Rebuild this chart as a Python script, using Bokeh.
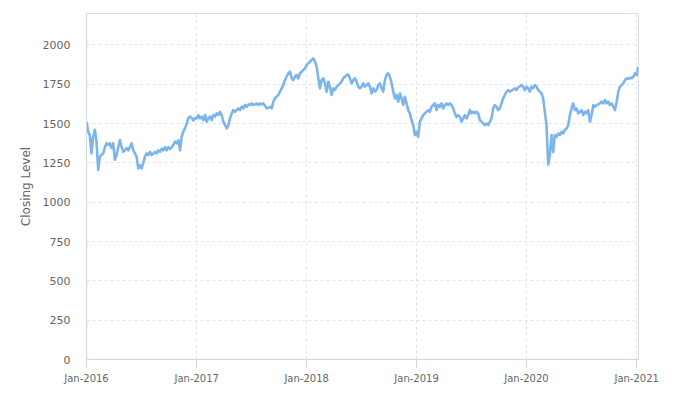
import pandas as pd
from datetime import datetime
from bokeh.plotting import figure
from bokeh.models import Range1d, FixedTicker, DatetimeTickFormatter, ColumnDataSource
from bokeh.embed import file_html
from bokeh.resources import INLINE

# Values, one list per calendar year
v2016 = [1510, 1450, 1425, 1310, 1415, 1460, 1385, 1205, 1290, 1300, 1310, 1350, 1375, 1365,
         1375, 1345, 1375, 1270, 1300, 1350, 1395, 1350, 1320, 1330, 1345, 1330, 1350, 1375,
         1330, 1310, 1290, 1215, 1235, 1215, 1250, 1290, 1310, 1300, 1320, 1300, 1310, 1320,
         1310, 1330, 1320, 1340, 1330, 1350, 1330, 1350, 1340, 1350, 1365, 1385, 1375, 1395,
         1330, 1415, 1450, 1470, 1500, 1535, 1545, 1535, 1520, 1535]
v2017 = [1533, 1554, 1533, 1545, 1522, 1554, 1512, 1533, 1545, 1522, 1554, 1545, 1565, 1554,
         1575, 1554, 1512, 1490, 1469, 1490, 1533, 1565, 1586, 1575, 1586, 1597, 1586, 1607,
         1597, 1618, 1607, 1622, 1618, 1628, 1618, 1622, 1628, 1618, 1628, 1622, 1628, 1614,
         1597, 1601, 1607, 1597, 1639, 1660, 1671, 1682, 1703, 1724, 1745, 1777, 1798, 1820,
         1830, 1788, 1777, 1798, 1809, 1788, 1820, 1830, 1840, 1851]
v2018 = [1873, 1883, 1894, 1905, 1915, 1894, 1862, 1788, 1724, 1777, 1788, 1756, 1703, 1766,
         1735, 1682, 1724, 1714, 1735, 1745, 1756, 1766, 1788, 1798, 1809, 1812, 1788, 1756,
         1777, 1788, 1766, 1735, 1724, 1735, 1756, 1735, 1745, 1756, 1735, 1692, 1724, 1703,
         1714, 1745, 1756, 1724, 1703, 1777, 1809, 1820, 1798, 1756, 1703, 1660, 1682, 1639,
         1692, 1660, 1618, 1671, 1628, 1586, 1565, 1522, 1490, 1427]
v2019 = [1448, 1416, 1512, 1533, 1554, 1565, 1575, 1586, 1575, 1607, 1618, 1628, 1586, 1618,
         1607, 1628, 1597, 1618, 1628, 1618, 1628, 1618, 1597, 1565, 1543, 1554, 1543, 1512,
         1533, 1554, 1533, 1554, 1586, 1565, 1575, 1565, 1575, 1565, 1522, 1512, 1501, 1490,
         1501, 1490, 1512, 1533, 1597, 1618, 1607, 1586, 1597, 1628, 1660, 1682, 1703, 1713,
         1703, 1709, 1717, 1724, 1713, 1730, 1735, 1745, 1735, 1713]
v2020 = [1735, 1724, 1703, 1735, 1724, 1745, 1735, 1713, 1703, 1692, 1660, 1575, 1490, 1240,
         1299, 1427, 1320, 1427, 1416, 1437, 1427, 1448, 1437, 1459, 1469, 1490, 1554, 1597,
         1628, 1586, 1597, 1565, 1575, 1586, 1554, 1575, 1565, 1586, 1512, 1554, 1618, 1607,
         1618, 1622, 1628, 1639, 1628, 1650, 1628, 1639, 1618, 1628, 1607, 1586, 1639, 1703,
         1735, 1745, 1756, 1777, 1788, 1784, 1792, 1788, 1798, 1820]
v2021 = [1809, 1860]
d2021 = ["2021-01-01", "2021-01-06"]

years = [2016, 2017, 2018, 2019, 2020]
yearly = [v2016, v2017, v2018, v2019, v2020]
y_ticks = [0, 250, 500, 750, 1000, 1250, 1500, 1750, 2000]
x_tick_years = [2016, 2017, 2018, 2019, 2020, 2021]


def year_dates(y, n):
    return list(pd.date_range(f"{y}-01-01", f"{y + 1}-01-01", periods=n + 1)[:-1])


dates, values = [], []
for y, vals in zip(years, yearly):
    dates += year_dates(y, len(vals))
    values += vals
dates += list(pd.to_datetime(d2021))
values += v2021

src = ColumnDataSource(dict(date=dates, close=values))

p = figure(width=682, height=396, x_axis_type="datetime", output_backend="svg",
           toolbar_location=None,
           x_range=Range1d(datetime(2016, 1, 1), datetime(2021, 1, 7)),
           y_range=Range1d(0, 2200),
           min_border_left=86, min_border_right=44, min_border_top=13, min_border_bottom=37)

p.line("date", "close", source=src, line_color="#7cb5ec", line_width=2.6,
       line_join="round")

grey = "#666666"
axis_col = "#ccd6eb"
font = "DejaVu Sans"

p.outline_line_color = "#d8dee9"
p.background_fill_color = "white"
p.border_fill_color = "white"

# grids
for g in (p.xgrid, p.ygrid):
    g.grid_line_color = "#e3e3e3"
    g.grid_line_dash = "3 3"
    g.grid_line_width = 1

# y axis
ya = p.yaxis[0]
ya.ticker = FixedTicker(ticks=y_ticks)
ya.axis_label = "Closing Level"
ya.axis_label_text_font = font
ya.axis_label_text_font_size = "12px"
ya.axis_label_text_font_style = "normal"
ya.axis_label_text_color = grey
ya.axis_label_standoff = 7
ya.major_label_text_font = font
ya.major_label_text_font_size = "11px"
ya.major_label_text_color = grey
ya.major_tick_line_color = None
ya.minor_tick_line_color = None
ya.major_tick_out = 0
ya.major_tick_in = 0
ya.major_label_standoff = 16
ya.axis_line_color = axis_col

# x axis
xa = p.xaxis[0]
xa.ticker = FixedTicker(ticks=[datetime(y, 1, 1).timestamp() * 1000 for y in x_tick_years])
fmt = "%b-%Y"
xa.formatter = DatetimeTickFormatter(years=fmt, months=fmt, days=fmt, hours=fmt,
                                     hourmin=fmt, minutes=fmt, minsec=fmt, seconds=fmt,
                                     milliseconds=fmt, microseconds=fmt)
xa.major_label_text_font = font
xa.major_label_text_font_size = "10px"
xa.major_label_text_color = grey
xa.major_tick_line_color = axis_col
xa.major_tick_out = 8
xa.major_tick_in = 0
xa.minor_tick_line_color = None
xa.major_label_standoff = 5
xa.axis_line_color = axis_col

open("out.html", "w").write(file_html(p, INLINE))
